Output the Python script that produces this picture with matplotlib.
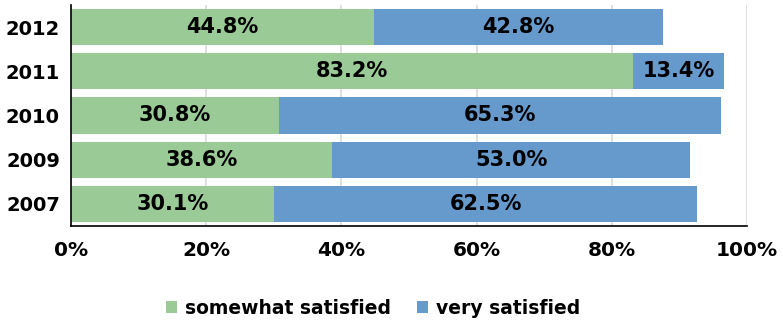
import matplotlib
matplotlib.use("Agg")
import matplotlib.pyplot as plt
from matplotlib.ticker import FuncFormatter, MultipleLocator

years = ["2007", "2009", "2010", "2011", "2012"]
somewhat = [30.1, 38.6, 30.8, 83.2, 44.8]
very = [62.5, 53.0, 65.3, 13.4, 42.8]

green = "#9ACA96"
blue = "#6699CC"

plt.rcParams['font.family'] = ['DejaVu Sans']
fig = plt.figure(figsize=(7.83, 3.21), dpi=100)
ax = fig.add_axes([71/783, 1-226/321, 676/783, 221/321])

y = range(len(years))
ax.barh(y, somewhat, height=0.82, color=green, label="somewhat satisfied", zorder=2)
ax.barh(y, very, left=somewhat, height=0.82, color=blue, label="very satisfied", zorder=2)

for i in y:
    ax.text(somewhat[i]/2, i, f"{somewhat[i]:.1f}%", ha="center", va="center",
            fontsize=15, fontweight="bold", zorder=3)
    ax.text(somewhat[i] + very[i]/2, i, f"{very[i]:.1f}%", ha="center", va="center",
            fontsize=15, fontweight="bold", zorder=3)

ax.set_xlim(0, 100)
ax.set_ylim(-0.5, len(years)-0.5)
ax.set_yticks(list(y))
ax.set_yticklabels(years, fontsize=14, fontweight="bold")
ax.xaxis.set_major_locator(MultipleLocator(20))
ax.xaxis.set_major_formatter(FuncFormatter(lambda v, p: f"{v:.0f}%"))
for lab in ax.get_xticklabels():
    lab.set_fontsize(14.5)
    lab.set_fontweight("bold")
ax.tick_params(axis="y", length=0, pad=8)
ax.tick_params(axis="x", length=0, pad=11)
ax.grid(axis="x", color="#D9D9D9", linewidth=1.2, zorder=0)
ax.set_axisbelow(True)
for s in ["top", "right"]:
    ax.spines[s].set_visible(False)
ax.spines["left"].set_color("black")
ax.spines["bottom"].set_color("black")
ax.spines["left"].set_linewidth(1.2)
ax.spines["bottom"].set_linewidth(1.2)

leg = fig.legend(loc="center", bbox_to_anchor=(373/783, 1-308/321), ncol=2, frameon=False,
                 prop={"size": 13.5, "weight": "bold"}, handlelength=0.6, handleheight=0.6,
                 handletextpad=0.4, columnspacing=1.4)

fig.savefig("out.png", dpi=100)
